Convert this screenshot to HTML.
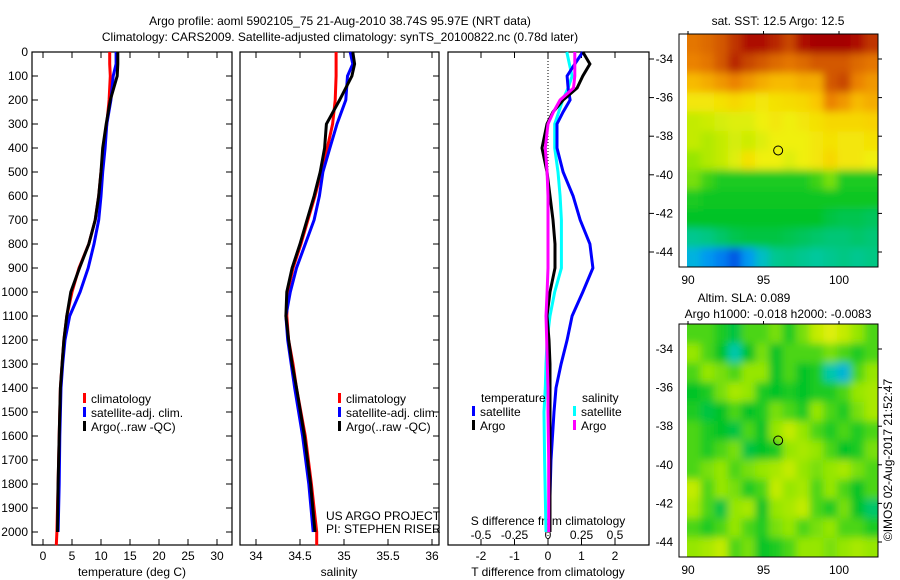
<!DOCTYPE html>
<html><head><meta charset="utf-8"><style>
body{margin:0;background:#fff;}
svg{display:block;font-family:"Liberation Sans",sans-serif;font-size:12px;}
</style></head><body>
<svg id="c" width="900" height="580" viewBox="0 0 900 580">
<defs>
<filter id="blur" x="-10%" y="-10%" width="120%" height="120%"><feGaussianBlur stdDeviation="4"/></filter>
<clipPath id="clip1"><rect x="687" y="34" width="191" height="233"/></clipPath>
<clipPath id="clip2"><rect x="687" y="324" width="191" height="233"/></clipPath>
</defs>
<text x="340" y="25" text-anchor="middle">Argo profile: aoml 5902105_75 21-Aug-2010 38.74S 95.97E (NRT data)</text>
<text x="340" y="41" text-anchor="middle">Climatology: CARS2009. Satellite-adjusted climatology: synTS_20100822.nc (0.78d later)</text>
</svg>
<script>
// ---- data ----
const depthTicks=[0,100,200,300,400,500,600,700,800,900,1000,1100,1200,1300,1400,1500,1600,1700,1800,1900,2000];
const tempTicks=[0,5,10,15,20,25,30];
const salTicks=[34,34.5,35,35.5,36];
const dTTicks=[-2,-1,0,1,2];
const dSTicks=[-0.5,-0.25,0,0.25,0.5];
const lonTicks=[90,95,100];
const latTicks=[-34,-36,-38,-40,-42,-44];
const profDepth=[0,50,100,200,300,400,500,600,700,800,900,1000,1100,1200,1300,1400,1600,1800,2000];
const tempClim=[11.5,11.5,11.6,11.4,11.0,10.5,10.0,9.6,9.0,7.9,6.2,5.0,4.1,3.6,3.3,3.0,2.8,2.6,2.4];
const tempSat=[12.6,12.6,12.1,11.7,11.0,10.7,10.3,10.0,9.6,8.8,7.8,6.4,4.6,3.8,3.4,3.1,2.9,2.8,2.6];
const tempArgo=[12.9,12.9,12.8,11.6,10.9,10.3,10.0,9.6,9.0,7.9,6.3,4.8,4.1,3.6,3.3,3.0,2.8,2.6,2.5];
const salClim=[34.91,34.91,34.91,34.9,34.87,34.81,34.74,34.67,34.59,34.51,34.42,34.36,34.35,34.37,34.42,34.46,34.56,34.63,34.69];
const salSat=[35.07,35.1,35.04,35.02,34.92,34.84,34.76,34.72,34.66,34.56,34.46,34.39,34.34,34.36,34.4,34.44,34.53,34.6,34.65];
const salArgo=[35.1,35.12,35.09,34.95,34.8,34.78,34.73,34.66,34.58,34.5,34.41,34.35,34.34,34.37,34.41,34.46,34.55,34.62,34.67];
const diffDepth=[0,50,100,150,200,250,300,400,500,600,700,800,900,1000,1100,1200,1300,1400,1500,1700,2000];
const dTSat=[1.04,0.8,0.57,0.6,0.66,0.45,0.27,0.27,0.45,0.75,0.96,1.25,1.34,1.04,0.72,0.57,0.39,0.24,0.18,0.09,0.03];
const dTArgo=[1.04,1.25,1.04,0.87,0.45,0.15,-0.03,-0.18,-0.03,0.06,0.15,0.21,0.21,0.06,-0.03,0.03,0.06,0.06,0.06,0.06,0.06];
const dSSat=[0.14,0.16,0.18,0.15,0.11,0.08,0.05,0.05,0.075,0.09,0.1,0.1,0.1,0.05,0.015,-0.007,-0.015,-0.02,-0.03,-0.025,-0.015];
const dSArgo=[0.2,0.2,0.2,0.19,0.09,0.04,0,-0.02,-0.007,0,0,0,0,-0.007,-0.015,-0.01,-0.005,0,0,0.005,0.005];
const sstGrid=[
[0.8,0.82,0.85,0.9,0.95,0.95,0.92,0.88,0.95,0.97,0.97,0.97,0.95,0.9],
[0.78,0.8,0.85,0.92,0.88,0.85,0.82,0.8,0.82,0.85,0.85,0.85,0.82,0.8],
[0.7,0.72,0.75,0.78,0.75,0.72,0.7,0.7,0.72,0.72,0.85,0.88,0.78,0.75],
[0.62,0.62,0.63,0.65,0.63,0.62,0.63,0.64,0.65,0.68,0.78,0.75,0.7,0.72],
[0.55,0.56,0.57,0.58,0.58,0.6,0.62,0.6,0.62,0.63,0.65,0.65,0.65,0.66],
[0.55,0.53,0.55,0.57,0.56,0.58,0.6,0.6,0.6,0.62,0.63,0.62,0.62,0.63],
[0.5,0.53,0.55,0.58,0.63,0.6,0.6,0.58,0.6,0.62,0.65,0.62,0.62,0.6],
[0.48,0.44,0.42,0.42,0.42,0.42,0.42,0.42,0.42,0.44,0.48,0.42,0.42,0.42],
[0.42,0.41,0.41,0.41,0.41,0.41,0.41,0.41,0.41,0.41,0.41,0.41,0.41,0.41],
[0.4,0.4,0.4,0.4,0.4,0.4,0.4,0.4,0.4,0.4,0.38,0.37,0.37,0.36],
[0.32,0.33,0.35,0.37,0.38,0.38,0.38,0.37,0.36,0.35,0.34,0.34,0.35,0.34],
[0.24,0.2,0.17,0.12,0.2,0.27,0.32,0.33,0.32,0.31,0.32,0.33,0.32,0.33]];
const slaGrid=[
[0.45,0.45,0.42,0.38,0.45,0.45,0.48,0.42,0.48,0.55,0.58,0.55,0.5,0.45],
[0.5,0.45,0.4,0.3,0.4,0.48,0.4,0.45,0.45,0.45,0.48,0.45,0.42,0.45],
[0.45,0.5,0.48,0.45,0.5,0.5,0.4,0.45,0.4,0.42,0.3,0.25,0.45,0.5],
[0.4,0.42,0.48,0.52,0.5,0.42,0.4,0.42,0.4,0.42,0.42,0.45,0.5,0.52],
[0.42,0.38,0.4,0.45,0.4,0.42,0.48,0.45,0.42,0.5,0.45,0.42,0.48,0.52],
[0.45,0.42,0.4,0.38,0.45,0.4,0.5,0.55,0.5,0.45,0.42,0.45,0.42,0.45],
[0.45,0.42,0.45,0.48,0.38,0.4,0.42,0.5,0.52,0.5,0.45,0.4,0.42,0.48],
[0.45,0.48,0.5,0.45,0.48,0.5,0.52,0.55,0.5,0.48,0.5,0.52,0.48,0.45],
[0.55,0.45,0.5,0.48,0.42,0.45,0.55,0.5,0.52,0.45,0.5,0.45,0.4,0.45],
[0.52,0.45,0.38,0.5,0.52,0.4,0.5,0.52,0.55,0.45,0.42,0.48,0.4,0.35],
[0.45,0.42,0.45,0.5,0.45,0.42,0.48,0.5,0.45,0.48,0.5,0.45,0.45,0.42],
[0.5,0.52,0.55,0.45,0.48,0.4,0.42,0.45,0.5,0.5,0.48,0.5,0.52,0.5]];
const argoLon=95.97, argoLat=-38.74;

// ---- helpers ----
const NS="http://www.w3.org/2000/svg";
const svg=document.getElementById('c');
function mk(tag,a,parent){const e=document.createElementNS(NS,tag);for(const k in a)e.setAttribute(k,a[k]);(parent||svg).appendChild(e);return e;}
const yD=d=>52+d*0.24;
const xT=t=>43+t*5.8;
const xS=s=>256+(s-34)*88;
const xDT=t=>548+t*33.5;
const xDS=s=>548+s*134;
const xLon=l=>688+(l-90)*15.1;
const yLat1=l=>59+(-34-l)*19.3;
const yLat2=l=>349+(-34-l)*19.3;

function colormap(v){
 const st=[[0.05,[0,40,200]],[0.15,[0,110,240]],[0.22,[0,170,240]],[0.3,[0,200,170]],[0.4,[0,195,40]],[0.5,[150,230,0]],[0.6,[240,240,10]],[0.68,[250,200,0]],[0.78,[235,130,0]],[0.88,[200,70,0]],[0.97,[165,0,0]]];
 if(v<=st[0][0])return 'rgb('+st[0][1]+')';
 for(let i=1;i<st.length;i++){if(v<=st[i][0]){const f=(v-st[i-1][0])/(st[i][0]-st[i-1][0]);const a=st[i-1][1],b=st[i][1];return 'rgb('+a.map((c,j)=>Math.round(c+(b[j]-c)*f)).join(',')+')';}}
 return 'rgb('+st[st.length-1][1]+')';
}

// ---- profile panels ----
const panels=[{x0:32,x1:232,name:'temperature-panel'},{x0:240,x1:439,name:'salinity-panel'},{x0:448,x1:649,name:'difference-panel'}];
panels.forEach(p=>{
 const r=mk('rect',{x:p.x0,y:52,width:p.x1-p.x0,height:493,fill:'none',stroke:'#000','stroke-width':1.2});
 
 
});
depthTicks.forEach(d=>{
 const t=mk('text',{x:28,y:yD(d)+4,'text-anchor':'end'});t.textContent=d;
 
 
 const l=mk('line',{x1:32,x2:38,y1:yD(d),y2:yD(d),stroke:'#000'});
 
 
 const l2=mk('line',{x1:226,x2:232,y1:yD(d),y2:yD(d),stroke:'#000'});
 
 
 const l3=mk('line',{x1:433,x2:439,y1:yD(d),y2:yD(d),stroke:'#000'});
 
 
});
function xTickSet(vals,fx,yLab,fmt,nm,top){
 vals.forEach(v=>{
  const x=fx(v);
  const t=mk('text',{x:x,y:yLab,'text-anchor':'middle'});t.textContent=fmt(v);
  
  
  const b=mk('line',{x1:x,x2:x,y1:539,y2:545,stroke:'#000'});
  
  
  if(top){const tt=mk('line',{x1:x,x2:x,y1:52,y2:58,stroke:'#000'});
  
  }
 });
}
xTickSet(tempTicks,xT,560,v=>v,'temperature',true);
xTickSet(salTicks,xS,560,v=>v,'salinity',true);
xTickSet(dTTicks,xDT,560,v=>v,'t-difference',true);
dSTicks.forEach(v=>{const t=mk('text',{x:xDS(v),y:539,'text-anchor':'middle'});t.textContent=String(v);
 
 });
[[132,576,'temperature (deg C)','temperature-axis-title'],[339,576,'salinity','salinity-axis-title'],[548,576,'T difference from climatology','t-difference-axis-title'],[548,525,'S difference from climatology','s-difference-axis-title']].forEach(a=>{
 const t=mk('text',{x:a[0],y:a[1],'text-anchor':'middle'});t.textContent=a[2];
 
 
});
latTicks.forEach(l=>{const y=yLat1(l);const tk=mk('line',{x1:649,x2:654,y1:y,y2:y,stroke:'#000'});
 
 });
const zl=mk('line',{x1:548,x2:548,y1:52,y2:545,stroke:'#000','stroke-dasharray':'1,2'});



function series(vals,depths,fx,color,nm){
 const pts=vals.map((v,i)=>fx(v).toFixed(1)+','+yD(depths[i]).toFixed(1)).join(' ');
 const pl=mk('polyline',{points:pts,fill:'none',stroke:color,'stroke-width':3,'stroke-linejoin':'miter'});
 
 
}
const tRed=tempClim.concat([2.3]), dRed=profDepth.concat([2055]);
series(tRed,dRed,xT,'#f00','temperature-climatology-line');
series(tempSat,profDepth,xT,'#00f','temperature-satellite-line');
series(tempArgo,profDepth,xT,'#000','temperature-argo-line');
const sRed=salClim.concat([34.69]);
series(sRed,dRed,xS,'#f00','salinity-climatology-line');
series(salSat,profDepth,xS,'#00f','salinity-satellite-line');
series(salArgo,profDepth,xS,'#000','salinity-argo-line');
series(dSSat,diffDepth,xDS,'#0ff','s-difference-satellite-line');
series(dTSat,diffDepth,xDT,'#00f','t-difference-satellite-line');
series(dTArgo,diffDepth,xDT,'#000','t-difference-argo-line');
series(dSArgo,diffDepth,xDS,'#f0f','s-difference-argo-line');

function legend(x,y,color,label,nm){
 const r=mk('rect',{x:x,y:y-10,width:3,height:10,fill:color});
 
 
 const t=mk('text',{x:x+8,y:y});t.textContent=label;
 
 
}
legend(83,403,'#f00','climatology','legend-climatology');
legend(83,417,'#00f','satellite-adj. clim.','legend-satellite');
legend(83,431,'#000','Argo(..raw -QC)','legend-argo');
legend(338,403,'#f00','climatology','legend-climatology-2');
legend(338,417,'#00f','satellite-adj. clim.','legend-satellite-2');
legend(338,431,'#000','Argo(..raw -QC)','legend-argo-2');
legend(472,416,'#00f','satellite','legend-t-satellite');
legend(472,430,'#000','Argo','legend-t-argo');
legend(573,416,'#0ff','satellite','legend-s-satellite');
legend(573,430,'#f0f','Argo','legend-s-argo');
[[481,402,'temperature','legend-temperature-header'],[582,402,'salinity','legend-salinity-header'],[326,520,'US ARGO PROJECT','project-label'],[326,533,'PI: STEPHEN RISER','pi-label']].forEach(a=>{
 const t=mk('text',{x:a[0],y:a[1]});t.textContent=a[2];
 
 
});

// ---- maps ----
function drawMap(grid,top,yLat,nm,clip){
 const outer=mk('g',{'clip-path':'url(#'+clip+')'});
 
 
 const g=mk('g',{filter:'url(#blur)'},outer);
 
 
 const x0=687,x1=878,rows=grid.length,cols=grid[0].length;
 const cw=(x1-x0)/cols,ch=233/rows,pad=14;
 grid.forEach((row,i)=>row.forEach((v,j)=>{
  let x=x0+j*cw,y=top+i*ch,w=cw+0.6,h=ch+0.6;
  if(j===0){x-=pad;w+=pad;} if(j===cols-1){w+=pad;}
  if(i===0){y-=pad;h+=pad;} if(i===rows-1){h+=pad;}
  const c=mk('rect',{x:x.toFixed(2),y:y.toFixed(2),width:w.toFixed(2),height:h.toFixed(2),fill:colormap(v)},g);
  
  
 }));
 const fr=mk('rect',{x:679,y:top,width:199,height:233,fill:'none',stroke:'#000'});
 
 
 latTicks.forEach(l=>{const y=yLat(l);
  const t=mk('text',{x:673,y:y+4,'text-anchor':'end'});t.textContent=l;
  
  
  const tk=mk('line',{x1:878,x2:882,y1:y,y2:y,stroke:'#000'});
  
  });
 lonTicks.forEach(l=>{const x=xLon(l);
  const t=mk('text',{x:x,y:top+250,'text-anchor':'middle'});t.textContent=l;
  
  
  const tk=mk('line',{x1:x,x2:x,y1:top-3,y2:top,stroke:'#000'});
  
  });
 const ci=mk('circle',{cx:xLon(argoLon),cy:yLat(argoLat),r:4.5,fill:'none',stroke:'#000','stroke-width':1});
 
 
}
drawMap(sstGrid,34,yLat1,'sst-map','clip1');
drawMap(slaGrid,324,yLat2,'sla-map','clip2');
[[778,25,'sat. SST: 12.5 Argo: 12.5','sst-map-title','middle'],[744,302,'Altim. SLA: 0.089','sla-map-title','middle'],[778,318,'Argo h1000: -0.018 h2000: -0.0083','sla-map-subtitle','middle']].forEach(a=>{
 const t=mk('text',{x:a[0],y:a[1],'text-anchor':a[4]});t.textContent=a[2];
 
 
});
const cr=mk('text',{x:0,y:0,'text-anchor':'middle',transform:'translate(892,460) rotate(-90)'});
cr.textContent='©IMOS 02-Aug-2017 21:52:47';


</script>
</body></html>
